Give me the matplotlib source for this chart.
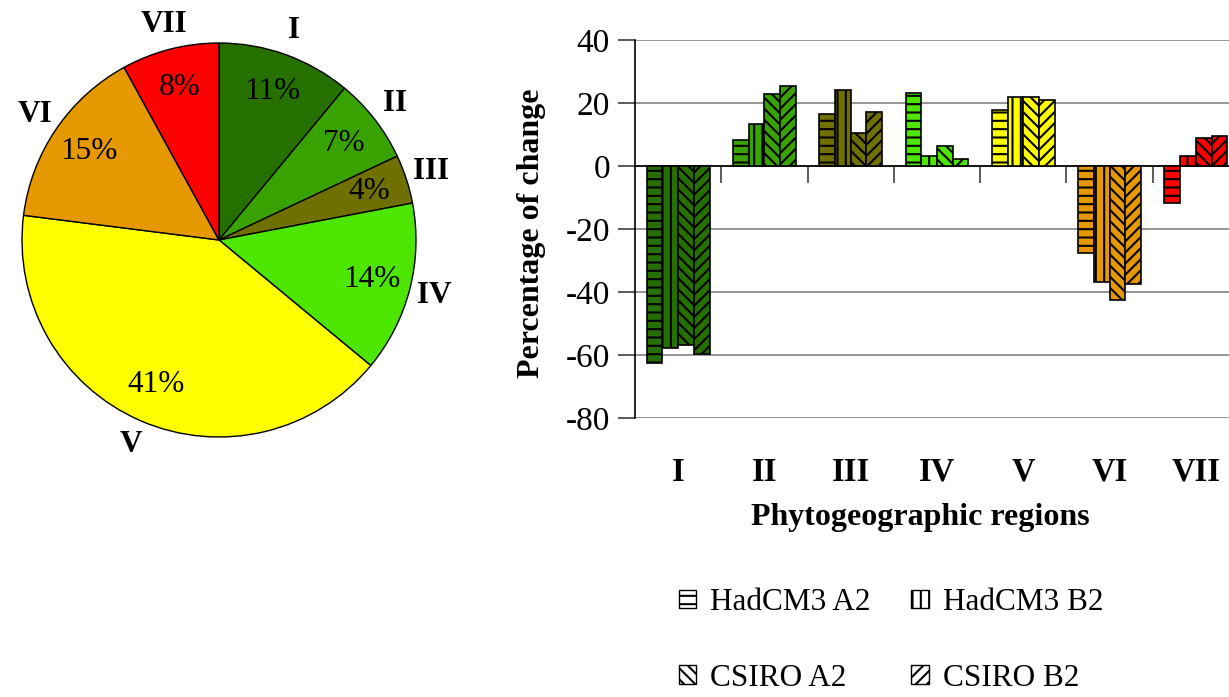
import matplotlib
matplotlib.use("Agg")
import matplotlib.pyplot as plt
from matplotlib.patches import Patch
from matplotlib.transforms import blended_transform_factory
import numpy as np

plt.rcParams['font.family'] = ['Liberation Serif', 'DejaVu Serif']
plt.rcParams['hatch.linewidth'] = 1.5

# Phytogeographic regions and their share of the total area (%)
regions = ['I', 'II', 'III', 'IV', 'V', 'VI', 'VII']
area_share = [11, 7, 4, 14, 41, 15, 8]
region_colors = ['#267000', '#38a300', '#707000', '#4ce600',
                 '#ffff00', '#e69800', '#ff0000']

# Projected percentage of change per region for each climate scenario
scenarios = ['HadCM3 A2', 'HadCM3 B2', 'CSIRO A2', 'CSIRO B2']
scenario_hatches = ['--', '||', '\\\\\\', '///']
hadcm3_a2 = [-62.5, 8.1, 16.6, 23.2, 17.8, -27.7, -11.9]
hadcm3_b2 = [-57.8, 13.4, 24.0, 3.1, 21.8, -36.9, 3.1]
csiro_a2 = [-56.7, 22.9, 10.6, 6.3, 21.8, -42.5, 8.8]
csiro_b2 = [-59.6, 25.3, 17.1, 2.3, 21.1, -37.5, 9.6]
series = [hadcm3_a2, hadcm3_b2, csiro_a2, csiro_b2]
y_ticks = [-80, -60, -40, -20, 0, 20, 40]

W, H = 1229, 697
fig = plt.figure(figsize=(W / 100, H / 100), dpi=100)


def fx(px):
    return px / W


def fy(py):
    return 1 - py / H


# ---- Pie of area shares ----
ax_pie = fig.add_axes([fx(22), fy(437), 394 / W, 394 / H])
wedges, labels, pcts = ax_pie.pie(
    area_share, colors=region_colors, startangle=90, counterclock=False,
    labels=regions, labeldistance=1.13, autopct='%.0f%%', pctdistance=0.8,
    wedgeprops=dict(edgecolor='black', linewidth=1.0),
    textprops=dict(fontsize=22.5))
for t in labels:
    t.set_ha('center')
    t.set_va('center')
    t.set_fontweight('bold')
    t.set_fontsize(22.5)
for t in pcts:
    t.set_fontsize(22.5)
ax_pie.set_xlim(-1, 1)
ax_pie.set_ylim(-1, 1)

# ---- Bar chart of percentage change ----
ax = fig.add_axes([fx(635), fy(418), 604 / W, 378 / H])
x = np.arange(len(regions))
w = 0.182
for i, (vals, hatch) in enumerate(zip(series, scenario_hatches)):
    ax.bar(x + (i - 1.5) * w, vals, w, color=region_colors,
           edgecolor='black', linewidth=1.2, hatch=hatch, zorder=3)

ax.set_xlim(-0.5, len(regions) - 0.5)
ax.set_ylim(-80, 40)
ax.set_yticks(y_ticks)
ax.set_yticklabels([str(v) for v in y_ticks], fontsize=24)
ax.yaxis.grid(True, color='#8c8c8c', linewidth=1.3)
ax.set_axisbelow(True)
for s in ('top', 'right'):
    ax.spines[s].set_visible(False)
ax.spines['bottom'].set_position(('data', 0))
ax.spines['bottom'].set_linewidth(1.2)
ax.spines['left'].set_linewidth(1.2)
ax.set_xticks(np.arange(0.5, len(regions) - 1, 1.0))
ax.set_xticklabels([])
ax.tick_params(axis='x', direction='out', length=12, width=1.2, color='#404040')
ax.tick_params(axis='y', direction='out', length=12, width=1.2, color='#404040', pad=6)

trans = blended_transform_factory(ax.transData, ax.transAxes)
for xi, r in zip(x, regions):
    ax.text(xi, -0.143, r, transform=trans, ha='center', va='center',
            fontsize=23.5, fontweight='bold')

fig.text(fx(532), fy(233), 'Percentage of change', rotation=90,
         ha='center', va='center', fontsize=23, fontweight='bold')
fig.text(fx(920), fy(518), 'Phytogeographic regions',
         ha='center', va='center', fontsize=23, fontweight='bold')

# ---- Legend ----
handles = [Patch(facecolor='white', edgecolor='black', hatch=h, linewidth=1.0)
           for h in scenario_hatches]
order = [0, 2, 1, 3]
fig.legend([handles[k] for k in order], [scenarios[k] for k in order],
           ncol=2, loc='upper left', bbox_to_anchor=(fx(679), fy(588)),
           frameon=False, borderpad=0, borderaxespad=0, fontsize=22.5,
           handlelength=0.55, handleheight=0.55, handletextpad=0.45,
           columnspacing=1.3, labelspacing=1.5)

fig.savefig('out.png', dpi=100)
